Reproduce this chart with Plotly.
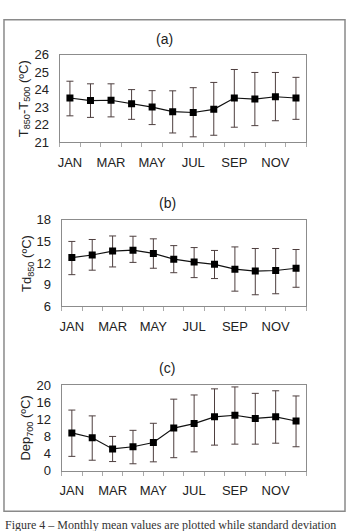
import plotly.graph_objects as go

months = ["JAN", "FEB", "MAR", "APR", "MAY", "JUN", "JUL", "AUG", "SEP", "OCT", "NOV", "DEC"]

# (a) T850 - T500
a_mean = [23.52, 23.37, 23.39, 23.19, 23.00, 22.74, 22.69, 22.87, 23.52, 23.46, 23.59, 23.52]
a_up = [24.48, 24.33, 24.33, 24.00, 23.94, 23.93, 24.11, 24.41, 25.15, 24.98, 24.98, 24.70]
a_lo = [22.50, 22.41, 22.44, 22.30, 22.00, 21.52, 21.30, 21.39, 21.85, 21.94, 22.22, 22.30]

# (b) Td850
b_mean = [12.76, 13.12, 13.66, 13.79, 13.34, 12.54, 12.13, 11.82, 11.15, 10.88, 10.97, 11.28]
b_up = [15.00, 15.27, 15.76, 15.72, 15.36, 14.42, 14.15, 13.75, 14.24, 14.02, 14.02, 13.88]
b_lo = [10.39, 11.01, 11.46, 12.09, 11.28, 10.66, 9.98, 9.85, 8.10, 7.60, 7.74, 8.64]

# (c) Dep700
c_mean = [8.80, 7.67, 5.04, 5.56, 6.54, 9.92, 10.98, 12.56, 12.93, 12.18, 12.56, 11.58]
c_up = [14.14, 12.78, 7.97, 9.40, 11.05, 16.69, 17.67, 19.10, 19.55, 18.05, 18.65, 17.44]
c_lo = [3.31, 2.41, 2.10, 1.58, 2.03, 3.00, 4.36, 5.94, 6.17, 6.17, 6.39, 5.56]

panels = [
    dict(mean=a_mean, up=a_up, lo=a_lo, yr=[21, 26], dt=1, label="(a)",
         ytitle="T<sub>850</sub>-T<sub>500</sub> (ºC)"),
    dict(mean=b_mean, up=b_up, lo=b_lo, yr=[6, 18], dt=3, label="(b)",
         ytitle="Td<sub>850</sub> (ºC)"),
    dict(mean=c_mean, up=c_up, lo=c_lo, yr=[0, 20], dt=4, label="(c)",
         ytitle="Dep<sub>700</sub> (ºC)"),
]

W, H = 347, 531
# pixel boxes: (left, right, top, bottom)
boxes = [(58, 306, 49, 139), (60, 306, 219, 308), (60, 306, 389, 477)]
titles_px = [(163, 33), (166, 202), (166, 371)]
ytitle_x = [22, 25, 25]

fig = go.Figure()
x = list(range(1, 13))
annotations = []
layout = {}
for i, (p, box) in enumerate(zip(panels, boxes)):
    n = "" if i == 0 else str(i + 1)
    l, r, t, b = box
    fig.add_trace(go.Scatter(
        x=x, y=p["mean"], mode="lines+markers",
        line=dict(color="#111", width=1.2),
        marker=dict(symbol="square", size=7, color="#000"),
        error_y=dict(type="data", symmetric=False,
                     array=[u - m for u, m in zip(p["up"], p["mean"])],
                     arrayminus=[m - lo for m, lo in zip(p["mean"], p["lo"])],
                     color="#4e3f3f", thickness=1, width=3.5),
        xaxis="x" + n, yaxis="y" + n, showlegend=False, hoverinfo="skip"))
    layout["xaxis" + n] = dict(
        domain=[l / W, r / W], anchor="y" + n, range=[0.5, 12.5],
        tickvals=x[::2], ticktext=months[::2], ticks="", showgrid=False,
        zeroline=False, showline=True, linecolor="#8c8c8c", linewidth=1, mirror=True,
        tickfont=dict(family="Liberation Sans, Arial", size=13, color="#222"),
        ticklabelstandoff=8,
        minor=dict(tickvals=[k + 0.5 for k in range(0, 13)], ticks="outside",
                   ticklen=4, tickcolor="#aaaaaa", showgrid=False))
    layout["yaxis" + n] = dict(
        domain=[1 - b / H, 1 - t / H], anchor="x" + n, range=p["yr"],
        dtick=p["dt"], tick0=0, ticks="", showgrid=False, zeroline=False,
        showline=True, linecolor="#8c8c8c", linewidth=1, mirror=True,
        tickfont=dict(family="Liberation Sans, Arial", size=13, color="#222"),
        ticklabelstandoff=7)
    tx, ty = titles_px[i]
    annotations.append(dict(text=p["label"], x=tx / W, y=1 - ty / H, xref="paper", yref="paper",
                            showarrow=False, xanchor="center", yanchor="middle",
                            font=dict(family="Liberation Sans, Arial", size=14, color="#222")))
    annotations.append(dict(text=p["ytitle"], x=ytitle_x[i] / W, y=1 - (t + b) / 2 / H,
                            xref="paper", yref="paper", showarrow=False, textangle=-90,
                            xanchor="center", yanchor="middle",
                            font=dict(family="Liberation Sans, Arial", size=13, color="#222")))

annotations.append(dict(text="Figure 4 – Monthly mean values are plotted while standard deviation",
                        x=1 / W, y=1 - 524 / H, xref="paper", yref="paper", showarrow=False,
                        xanchor="left", yanchor="top",
                        font=dict(family="Liberation Serif, Times New Roman", size=12, color="#333")))

fig.update_layout(
    width=W, height=H, margin=dict(l=0, r=0, t=0, b=0),
    paper_bgcolor="white", plot_bgcolor="white",
    annotations=annotations,
    shapes=[dict(type="rect", xref="paper", yref="paper",
                 x0=2 / W, x1=345 / W, y0=1 - 519 / H, y1=1 - 13 / H,
                 line=dict(color="#8a8a8a", width=1.5), layer="below")],
    **layout)

fig.write_html("out.html")
